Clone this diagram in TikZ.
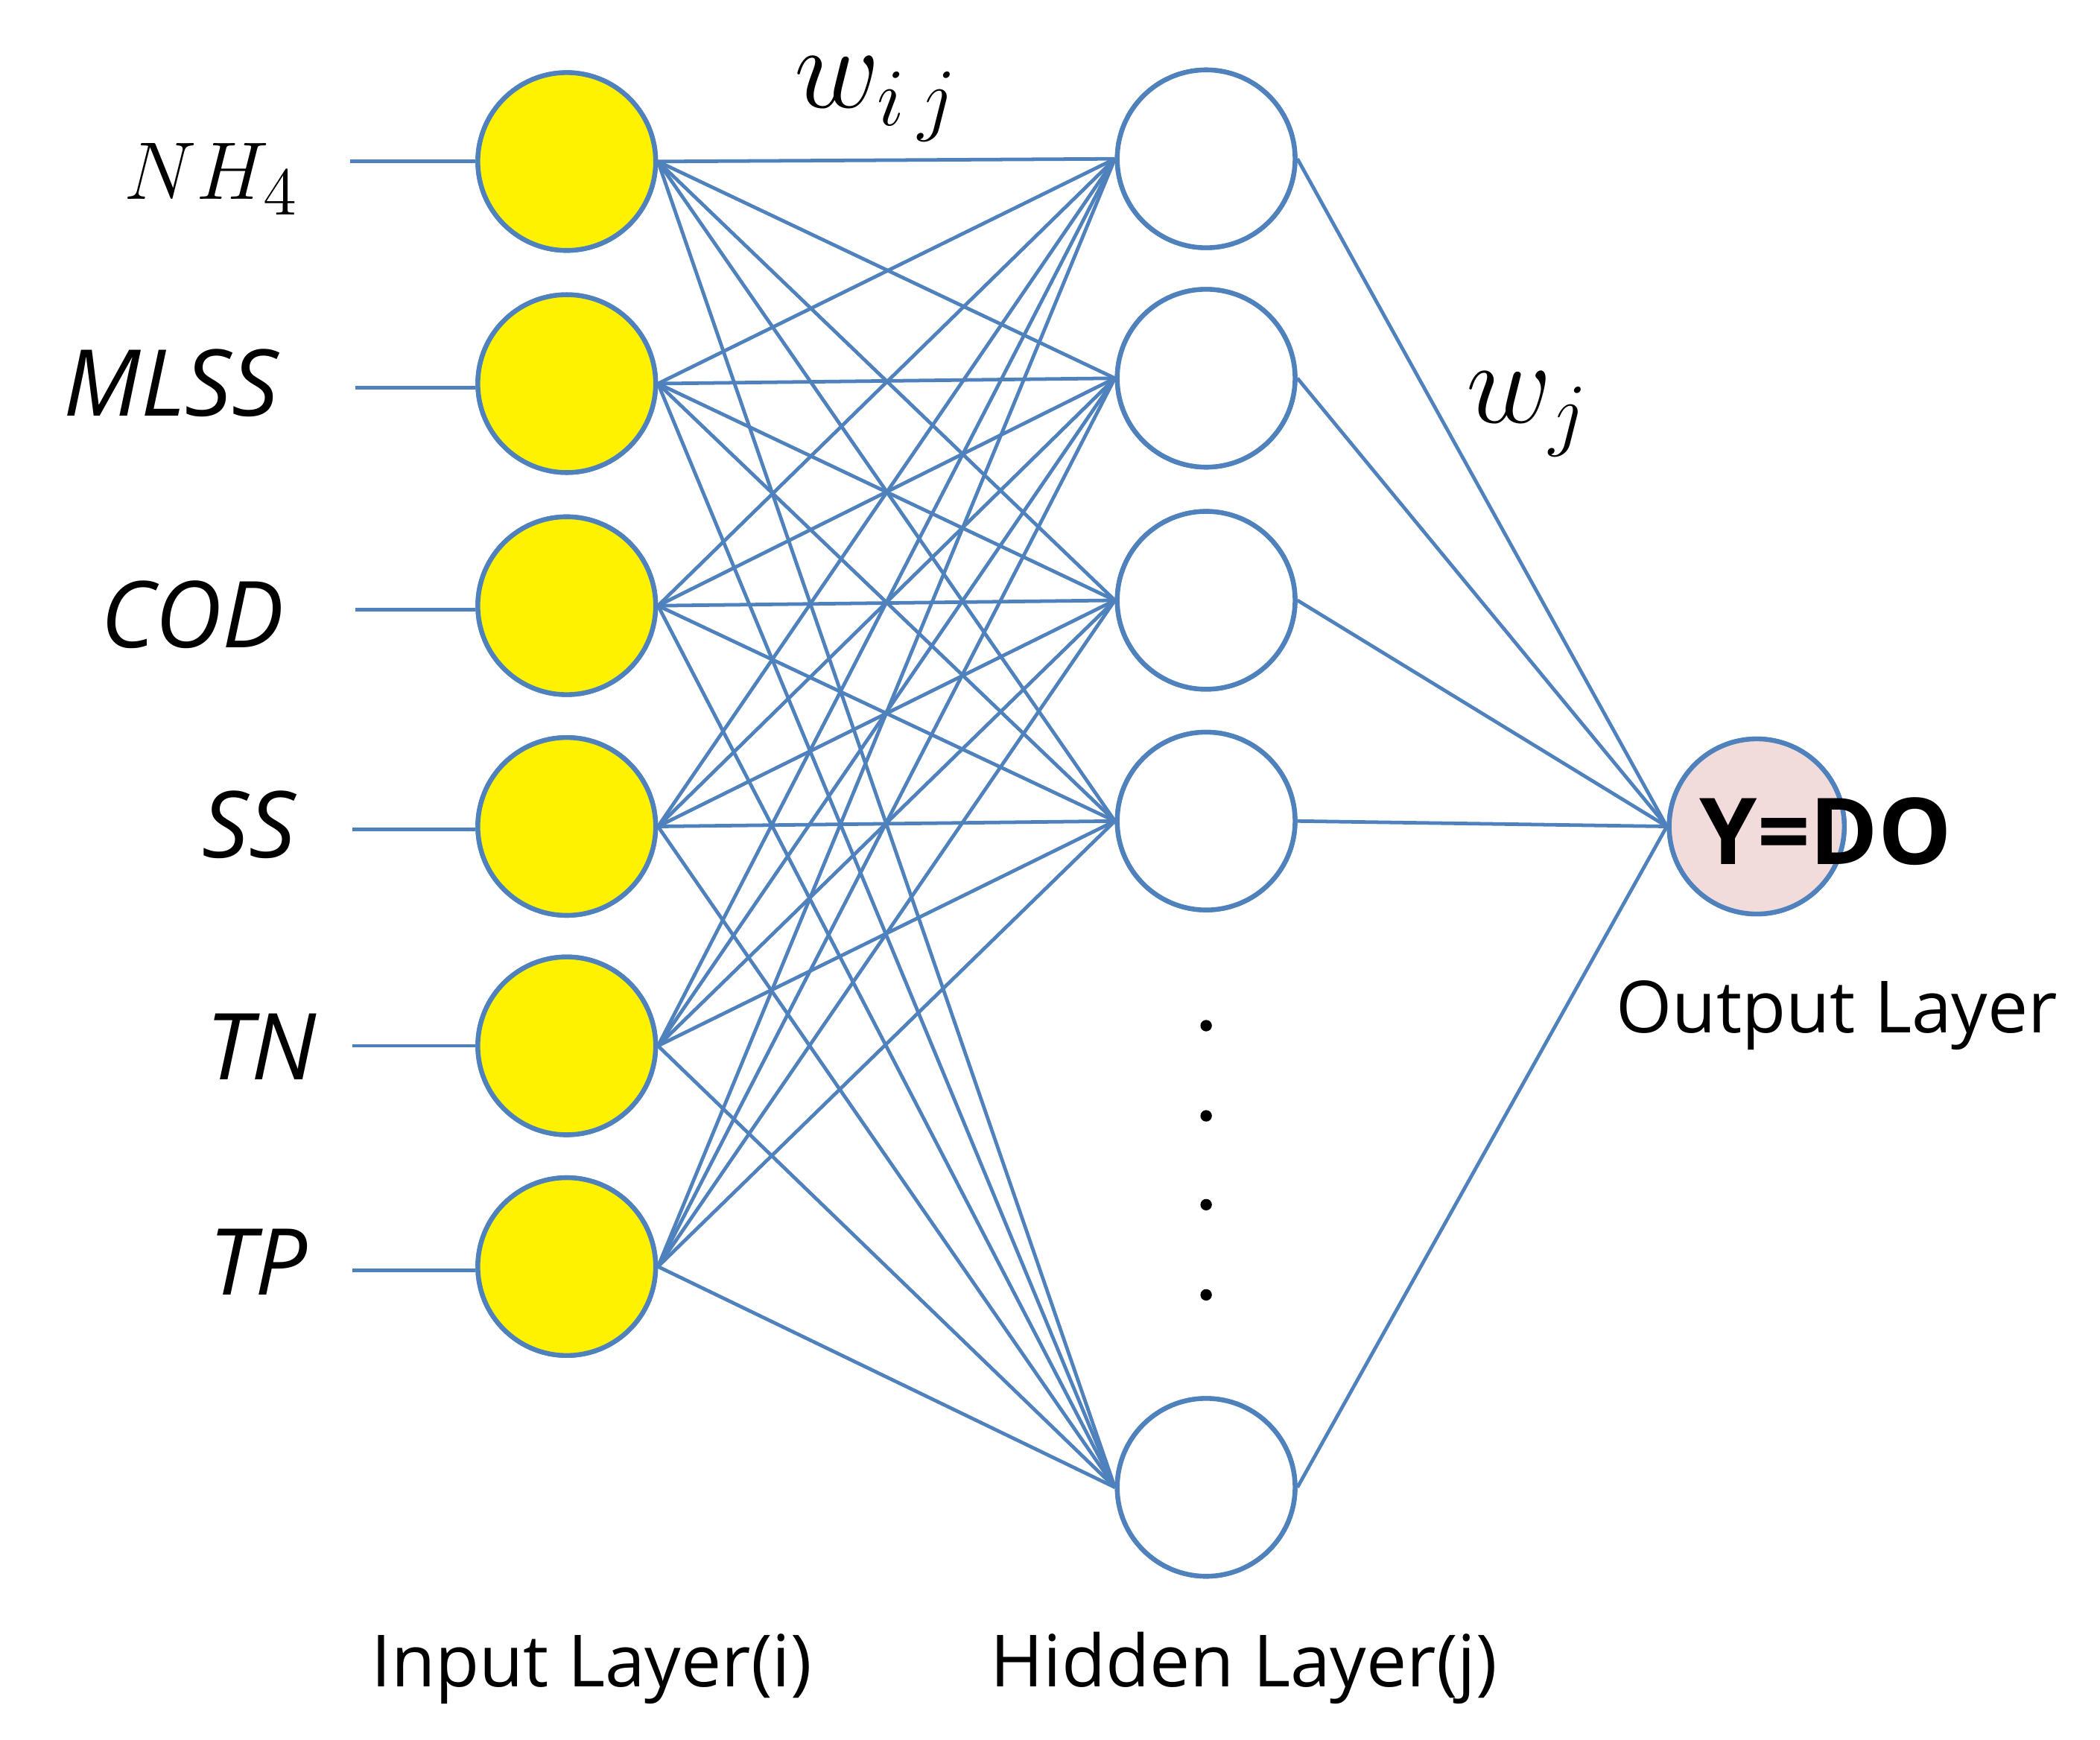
\documentclass[tikz,border=0pt]{standalone}
\usepackage{fontspec}
\setmainfont{Open Sans}
\begin{document}
\begin{tikzpicture}[x=0.01cm,y=-0.01cm,
  lnk/.style={draw=nnblue,line width=0.75pt},
  neuron/.style={circle,draw=nnblue,line width=1pt,minimum size=1.32cm,inner sep=0pt},
  inp/.style={neuron,fill=yellow},
  hid/.style={neuron,fill=white},
  outp/.style={neuron,fill=outpink,minimum size=1.30cm},
  varlab/.style={anchor=base,inner sep=0pt,font=\fontsize{19.5}{22}\selectfont\itshape},
  laylab/.style={anchor=base west,inner sep=0pt,font=\fontsize{15.2}{18}\selectfont},
  dotm/.style={circle,fill=black,inner sep=0pt,minimum size=0.085cm}]
\definecolor{nnblue}{RGB}{79,129,189}
\definecolor{outpink}{RGB}{242,220,219}
\useasboundingbox (0,0) rectangle (1560,1292.2);
% input nodes
\node[inp] (i1) at (421,120) {};
\node[inp] (i2) at (421,285) {};
\node[inp] (i3) at (421,450) {};
\node[inp] (i4) at (421,614) {};
\node[inp] (i5) at (421,777) {};
\node[inp] (i6) at (421,941) {};
% hidden nodes
\node[hid] (h1) at (896,118) {};
\node[hid] (h2) at (896,281) {};
\node[hid] (h3) at (896,446) {};
\node[hid] (h4) at (896,610) {};
\node[hid] (h5) at (896,1105) {};
% output node
\node[outp] (o) at (1305,614) {};
% input stubs
\coordinate (s1) at (260,120);
\coordinate (s2) at (264,288);
\coordinate (s3) at (264,453);
\coordinate (s4) at (262,616);
\coordinate (s5) at (262,777);
\coordinate (s6) at (262,944);
\foreach \k in {1,...,6}{\draw[lnk] (s\k) -- (s\k -| i\k.west);}
% links input-hidden
\foreach \a in {1,...,6}{\foreach \b in {1,...,5}{\draw[lnk] (i\a.east) -- (h\b.west);}}
% links hidden-output
\foreach \b in {1,...,5}{\draw[lnk] (h\b.east) -- (o.west);}
% redraw nodes on top
\node[inp] at (i1) {};\node[inp] at (i2) {};\node[inp] at (i3) {};
\node[inp] at (i4) {};\node[inp] at (i5) {};\node[inp] at (i6) {};
\node[hid] at (h1) {};\node[hid] at (h2) {};\node[hid] at (h3) {};
\node[hid] at (h4) {};\node[hid] at (h5) {};
\node[outp] at (o) {};
% dots
\node[dotm] (d1) at (896,762) {};
\node[dotm] (d2) at (896,829) {};
\node[dotm] (d3) at (896,895) {};
\node[dotm] (d4) at (896,962) {};
% variable labels
\node[anchor=base,inner sep=0pt,font=\fontsize{19}{22}\selectfont] (l1) at (157,148) {$NH_4$};
\node[varlab] (l2) at (127,309) {MLSS};
\node[varlab] (l3) at (143,481) {COD};
\node[varlab] (l4) at (185,637) {SS};
\node[varlab] (l5) at (194,802) {TN};
\node[varlab] (l6) at (192,962) {TP};
% weights
\node[anchor=base,inner sep=0pt,font=\fontsize{26}{30}\selectfont] (wij) at (651,80) {$w_{i\,j}$};
\node[anchor=base,inner sep=0pt,font=\fontsize{26}{30}\selectfont] (wj) at (1135,314) {$w_j$};
% output text
\node[anchor=base west,inner sep=0pt,font=\fontsize{19.5}{22}\selectfont\bfseries] (y) at (1262,642) {Y=DO};
% layer labels
\node[laylab] (il) at (275,1253) {Input Layer(i)};
\node[laylab] (hl) at (735,1253) {Hidden Layer(j)};
\node[laylab] (ol) at (1200,767) {Output Layer};
\end{tikzpicture}
\end{document}
